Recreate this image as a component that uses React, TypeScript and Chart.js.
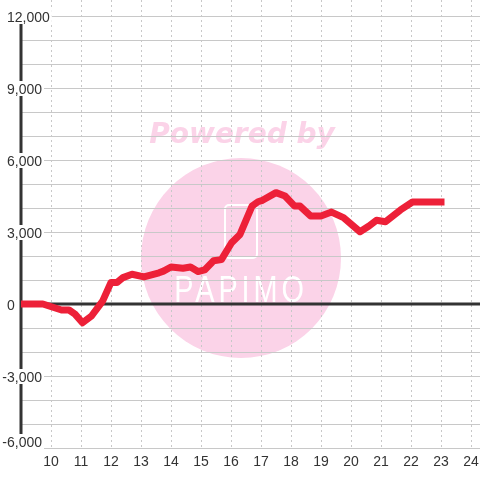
import React, { useEffect, useRef } from 'react';
import { Chart, registerables } from 'chart.js';

Chart.register(...registerables);

// Series: hour of day -> value
const hours = [9, 9.73, 10.35, 10.6, 10.8, 11.05, 11.35, 11.72, 12.0, 12.2, 12.4, 12.7, 13.1, 13.6, 13.75, 14.0, 14.4, 14.65, 14.9, 15.12, 15.42, 15.68, 16.02, 16.3, 16.7, 16.9, 17.05, 17.5, 17.8, 18.12, 18.3, 18.65, 19.0, 19.35, 19.75, 20.3, 20.6, 20.85, 21.15, 21.65, 22.05, 23.0];
const values = [0, 0, -250, -250, -420, -780, -500, 120, 900, 900, 1100, 1240, 1130, 1300, 1370, 1540, 1490, 1540, 1350, 1420, 1800, 1850, 2550, 2900, 4080, 4260, 4320, 4640, 4500, 4080, 4080, 3670, 3670, 3830, 3600, 3010, 3250, 3490, 3430, 3920, 4250, 4250];

const xTickLabels = [10, 11, 12, 13, 14, 15, 16, 17, 18, 19, 20, 21, 22, 23, 24];
const yTickLabels = [-6000, -3000, 0, 3000, 6000, 9000, 12000];
const yGridValues = [-6000, -5000, -4000, -3000, -2000, -1000, 0, 1000, 2000, 3000, 4000, 5000, 6000, 7000, 8000, 9000, 10000, 11000, 12000];

const X_MIN = 9;
const X_MAX = 24.3;
const Y_MIN = -6000;
const Y_MAX = 12667;
const Y_TOP_TICK = 12000;

const LINE_COLOR = '#ed2038';
const GRID_COLOR = '#c8c8c8';
const AXIS_COLOR = '#333333';
const TEXT_COLOR = '#333333';
const PINK = '#fbd3e8';
const FONT = '"Liberation Sans", Arial, sans-serif';

export default function App() {
  const ref = useRef<HTMLCanvasElement>(null);

  useEffect(() => {
    const canvas = ref.current;
    if (!canvas) return;

    const watermark = {
      id: 'watermark',
      beforeDraw(chart: any) {
        const ctx = chart.ctx;
        ctx.save();
        ctx.fillStyle = PINK;
        ctx.beginPath();
        ctx.arc(241, 258, 100, 0, Math.PI * 2);
        ctx.fill();
        ctx.font = 'italic bold 28px "DejaVu Sans", sans-serif';
        ctx.textAlign = 'center';
        ctx.textBaseline = 'alphabetic';
        ctx.fillText('Powered by', 242, 143);
        ctx.strokeStyle = '#ffffff';
        ctx.lineWidth = 2;
        ctx.beginPath();
        if ((ctx as any).roundRect) (ctx as any).roundRect(225, 205, 32, 53, 4);
        else ctx.rect(225, 205, 32, 53);
        ctx.stroke();
        ctx.fillStyle = '#ffffff';
        ctx.translate(241, 302);
        ctx.scale(0.78, 1);
        (ctx as any).letterSpacing = '5px';
        ctx.font = '37px ' + FONT;
        ctx.fillText('PAPIMO', 0, 0);
        ctx.restore();
      },
    };

    const axesOverlay = {
      id: 'axesOverlay',
      beforeDatasetsDraw(chart: any) {
        const ctx = chart.ctx;
        const xs = chart.scales.x;
        const ys = chart.scales.y;
        const area = chart.chartArea;
        ctx.save();
        // grid: horizontal solid lines
        ctx.strokeStyle = GRID_COLOR;
        ctx.lineWidth = 1;
        ctx.setLineDash([]);
        for (const v of yGridValues) {
          const p = Math.round(ys.getPixelForValue(v)) + 0.5;
          ctx.beginPath();
          ctx.moveTo(area.left, p);
          ctx.lineTo(area.right, p);
          ctx.stroke();
        }
        // grid: vertical dashed lines
        ctx.setLineDash([2, 3]);
        for (const v of xTickLabels) {
          const p = Math.round(xs.getPixelForValue(v)) + 0.5;
          ctx.beginPath();
          ctx.moveTo(p, area.top);
          ctx.lineTo(p, area.bottom);
          ctx.stroke();
        }
        ctx.setLineDash([]);
        // left axis
        ctx.strokeStyle = AXIS_COLOR;
        ctx.lineWidth = 3;
        ctx.beginPath();
        ctx.moveTo(area.left, ys.getPixelForValue(Y_TOP_TICK));
        ctx.lineTo(area.left, area.bottom);
        ctx.stroke();
        // zero line
        const y0 = ys.getPixelForValue(0);
        ctx.beginPath();
        ctx.moveTo(area.left, y0);
        ctx.lineTo(area.right, y0);
        ctx.stroke();
        // y labels
        ctx.font = '14px ' + FONT;
        ctx.textAlign = 'left';
        ctx.textBaseline = 'alphabetic';
        const dashW = ctx.measureText('-').width;
        for (const v of yTickLabels) {
          const p = ys.getPixelForValue(v);
          const label = v.toLocaleString('en-US');
          const x = v < 0 ? 7 - dashW : 7;
          const base = Math.min(Math.round(p) + 6, 447);
          const w = ctx.measureText(label).width;
          ctx.fillStyle = '#ffffff';
          ctx.fillRect(x - 2, base - 13, w + 4, 15);
          ctx.fillStyle = TEXT_COLOR;
          ctx.fillText(label, x, base);
        }
        // x labels
        ctx.textAlign = 'center';
        for (const v of xTickLabels) {
          const p = xs.getPixelForValue(v);
          ctx.fillStyle = TEXT_COLOR;
          ctx.fillText(String(v), p, 466);
        }
        ctx.restore();
      },
    };

    const chart = new Chart(canvas, {
      type: 'line',
      data: {
        datasets: [
          {
            data: hours.map((h, i) => ({ x: h, y: values[i] })),
            borderColor: LINE_COLOR,
            backgroundColor: LINE_COLOR,
            borderWidth: 7,
            pointRadius: 0,
            tension: 0,
            borderCapStyle: 'square',
            borderJoinStyle: 'round',
            fill: false,
          },
        ],
      },
      options: {
        responsive: false,
        animation: false,
        events: [],
        layout: { padding: { left: 21, right: 0, top: 0, bottom: 32 } },
        plugins: {
          legend: { display: false },
          tooltip: { enabled: false },
        },
        scales: {
          x: {
            type: 'linear',
            min: X_MIN,
            max: X_MAX,
            afterFit: (s: any) => {
              s.height = 0;
            },
            ticks: { display: false },
            grid: { display: false, drawTicks: false },
            border: { display: false },
          },
          y: {
            type: 'linear',
            min: Y_MIN,
            max: Y_MAX,
            afterFit: (s: any) => {
              s.width = 0;
            },
            ticks: { display: false },
            grid: { display: false, drawTicks: false },
            border: { display: false },
          },
        },
      } as any,
      plugins: [watermark, axesOverlay],
    });

    return () => chart.destroy();
  }, []);

  return (
    <div style={{ position: 'fixed', left: 0, top: 0, width: 480, height: 480, background: '#ffffff' }}>
      <canvas ref={ref} width={480} height={480} style={{ display: 'block', width: 480, height: 480 }} />
    </div>
  );
}
